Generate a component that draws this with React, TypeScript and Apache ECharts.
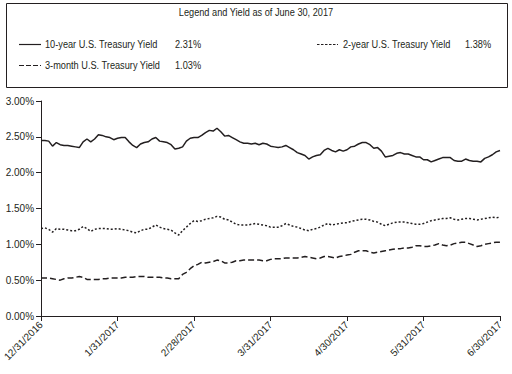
import React, { useEffect, useRef } from "react";
import * as echarts from "echarts";

const tickLabels = ["12/31/2016", "1/31/2017", "2/28/2017", "3/31/2017", "4/30/2017", "5/31/2017", "6/30/2017"];
const pointsPerMonth = 20;

const tenYear = [
  2.45, 2.45, 2.44, 2.37, 2.42, 2.39, 2.38, 2.38, 2.37, 2.36,
  2.35, 2.43, 2.47, 2.43, 2.47, 2.53, 2.52, 2.50, 2.49, 2.46,
  2.48, 2.49, 2.49, 2.43, 2.38, 2.35, 2.40, 2.42, 2.43, 2.47,
  2.49, 2.44, 2.43, 2.42, 2.39, 2.33, 2.34, 2.36, 2.44, 2.48,
  2.49, 2.49, 2.52, 2.56, 2.59, 2.58, 2.62, 2.57, 2.51, 2.52,
  2.49, 2.46, 2.43, 2.41, 2.41, 2.40, 2.41, 2.39, 2.41, 2.40,
  2.37, 2.36, 2.35, 2.36, 2.38, 2.35, 2.32, 2.28, 2.26, 2.24,
  2.19, 2.22, 2.24, 2.25, 2.31, 2.34, 2.31, 2.29, 2.32, 2.30,
  2.32, 2.36, 2.37, 2.40, 2.42, 2.42, 2.39, 2.34, 2.35, 2.30,
  2.22, 2.23, 2.24, 2.27, 2.28, 2.26, 2.26, 2.24, 2.22, 2.22,
  2.18, 2.18, 2.15, 2.17, 2.19, 2.21, 2.21, 2.21, 2.17, 2.16,
  2.16, 2.19, 2.17, 2.16, 2.16, 2.15, 2.20, 2.22, 2.25, 2.29,
  2.31,
];

const twoYear = [
  1.22, 1.23, 1.21, 1.17, 1.22, 1.21, 1.21, 1.20, 1.19, 1.19,
  1.21, 1.25, 1.22, 1.18, 1.21, 1.22, 1.22, 1.22, 1.21, 1.21,
  1.22, 1.21, 1.20, 1.19, 1.17, 1.16, 1.19, 1.21, 1.21, 1.24,
  1.27, 1.24, 1.22, 1.21, 1.20, 1.16, 1.13, 1.19, 1.24, 1.29,
  1.33, 1.32, 1.33, 1.35, 1.36, 1.37, 1.39, 1.38, 1.35, 1.34,
  1.31, 1.28, 1.27, 1.27, 1.27, 1.28, 1.29, 1.28, 1.27, 1.26,
  1.24, 1.24, 1.24, 1.26, 1.29, 1.27, 1.25, 1.24, 1.22, 1.20,
  1.19, 1.21, 1.22, 1.24, 1.27, 1.29, 1.27, 1.28, 1.29, 1.30,
  1.30, 1.32, 1.33, 1.34, 1.35, 1.35, 1.34, 1.32, 1.31, 1.28,
  1.26, 1.28, 1.30, 1.31, 1.31, 1.31, 1.30, 1.29, 1.28, 1.28,
  1.29, 1.31, 1.33, 1.34, 1.35, 1.36, 1.36, 1.37, 1.35, 1.34,
  1.35, 1.36, 1.36, 1.35, 1.34, 1.35, 1.36, 1.37, 1.38, 1.37,
  1.38,
];

const threeMonth = [
  0.53, 0.53, 0.53, 0.52, 0.51, 0.50, 0.52, 0.53, 0.53, 0.54,
  0.55, 0.54, 0.51, 0.51, 0.51, 0.51, 0.52, 0.52, 0.53, 0.53,
  0.53, 0.53, 0.54, 0.54, 0.54, 0.55, 0.55, 0.55, 0.54, 0.54,
  0.54, 0.54, 0.53, 0.53, 0.52, 0.52, 0.52, 0.58, 0.61, 0.66,
  0.70, 0.72, 0.75, 0.74, 0.75, 0.76, 0.78, 0.77, 0.74, 0.74,
  0.75, 0.77, 0.77, 0.78, 0.78, 0.78, 0.78, 0.78, 0.77, 0.77,
  0.79, 0.80, 0.80, 0.80, 0.81, 0.81, 0.81, 0.81, 0.82, 0.83,
  0.82, 0.81, 0.80, 0.81, 0.83, 0.83, 0.82, 0.81, 0.83, 0.84,
  0.85, 0.86, 0.89, 0.91, 0.91, 0.91, 0.89, 0.88, 0.89, 0.90,
  0.91, 0.92, 0.93, 0.94, 0.94, 0.95, 0.95, 0.96, 0.98, 0.98,
  0.97, 0.97, 0.98, 0.99, 1.01, 0.99, 0.98, 0.99, 1.01, 1.02,
  1.03, 1.03, 1.01, 0.99, 0.97, 0.98, 1.00, 1.01, 1.02, 1.03,
  1.03,
];

const legendTitle = "Legend and Yield as of June 30, 2017";
const seriesNames = ["10-year U.S. Treasury Yield", "2-year U.S. Treasury Yield", "3-month U.S. Treasury Yield"];
const latestYields = ["2.31%", "1.38%", "1.03%"];

const FONT = "'Liberation Sans', Arial, sans-serif";
const INK = "#231f20";

export default function App() {
  const ref = useRef<HTMLDivElement>(null);
  useEffect(() => {
    if (!ref.current) return;
    const chart = echarts.init(ref.current, undefined, { renderer: "svg" });
    const categories: string[] = [];
    for (let i = 0; i < tenYear.length; i++) {
      const m = Math.floor(i / pointsPerMonth);
      const k = i % pointsPerMonth;
      categories.push(k === 0 ? tickLabels[m] : `${tickLabels[m]}+${k}`);
    }
    const lineStyles = [
      { type: "solid" as any, width: 1.5 },
      { type: [2, 2] as any, width: 1.5 },
      { type: [6, 3] as any, width: 1.5 },
    ];
    const data = [tenYear, twoYear, threeMonth];
    const txt = (x: number, y: number, text: string, align = "left") => ({
      type: "text",
      x,
      y,
      scaleX: 0.8,
      style: { text, x: 0, y: 0, fill: INK, font: `11.5px ${FONT}`, textAlign: align, textVerticalAlign: "middle" },
    });
    const seg = (x1: number, x2: number, y: number, dash: any) => ({
      type: "line",
      shape: { x1, y1: y, x2, y2: y },
      style: { stroke: INK, lineWidth: 1.2, lineDash: dash },
    });
    chart.setOption({
      animation: false,
      grid: { left: 41, right: 12, top: 101, bottom: 58, containLabel: false },
      xAxis: {
        type: "category",
        data: categories,
        boundaryGap: false,
        axisLine: { lineStyle: { color: INK, width: 1 } },
        axisTick: { interval: pointsPerMonth - 1, length: 5, lineStyle: { color: INK } },
        axisLabel: {
          interval: pointsPerMonth - 1,
          rotate: 45,
          margin: 7,
          color: INK,
          fontFamily: FONT,
          fontSize: 10,
          formatter: (v: string) => v.split("+")[0],
        },
        splitLine: { show: false },
      },
      yAxis: {
        type: "value",
        min: 0,
        max: 3,
        interval: 0.5,
        axisLine: { show: true, lineStyle: { color: INK, width: 1 } },
        axisTick: { show: true, length: 5, lineStyle: { color: INK } },
        axisLabel: {
          color: INK,
          fontFamily: FONT,
          fontSize: 10,
          margin: 7,
          formatter: (v: number) => v.toFixed(2) + "%",
        },
        splitLine: { show: false },
      },
      series: data.map((d, i) => ({
        type: "line",
        name: seriesNames[i],
        data: d,
        symbol: "none",
        lineStyle: { color: INK, ...lineStyles[i] },
      })),
      graphic: [
        { type: "rect", shape: { x: 6.5, y: 3.5, width: 501, height: 84 }, style: { fill: "none", stroke: INK, lineWidth: 1 } },
        txt(256, 12.5, legendTitle, "center"),
        seg(19, 41, 44.5, null),
        txt(45, 44.5, seriesNames[0]),
        txt(175, 44.5, latestYields[0]),
        seg(317, 338, 44.5, [2.5, 1.5]),
        txt(343, 44.5, seriesNames[1]),
        txt(465, 44.5, latestYields[1]),
        seg(19, 41, 65.5, [5, 2]),
        txt(45, 65.5, seriesNames[2]),
        txt(175, 65.5, latestYields[2]),
      ],
    });
    return () => chart.dispose();
  }, []);
  return <div ref={ref} style={{ width: 512, height: 374, position: "absolute", left: 0, top: 0, background: "#fff" }} />;
}
